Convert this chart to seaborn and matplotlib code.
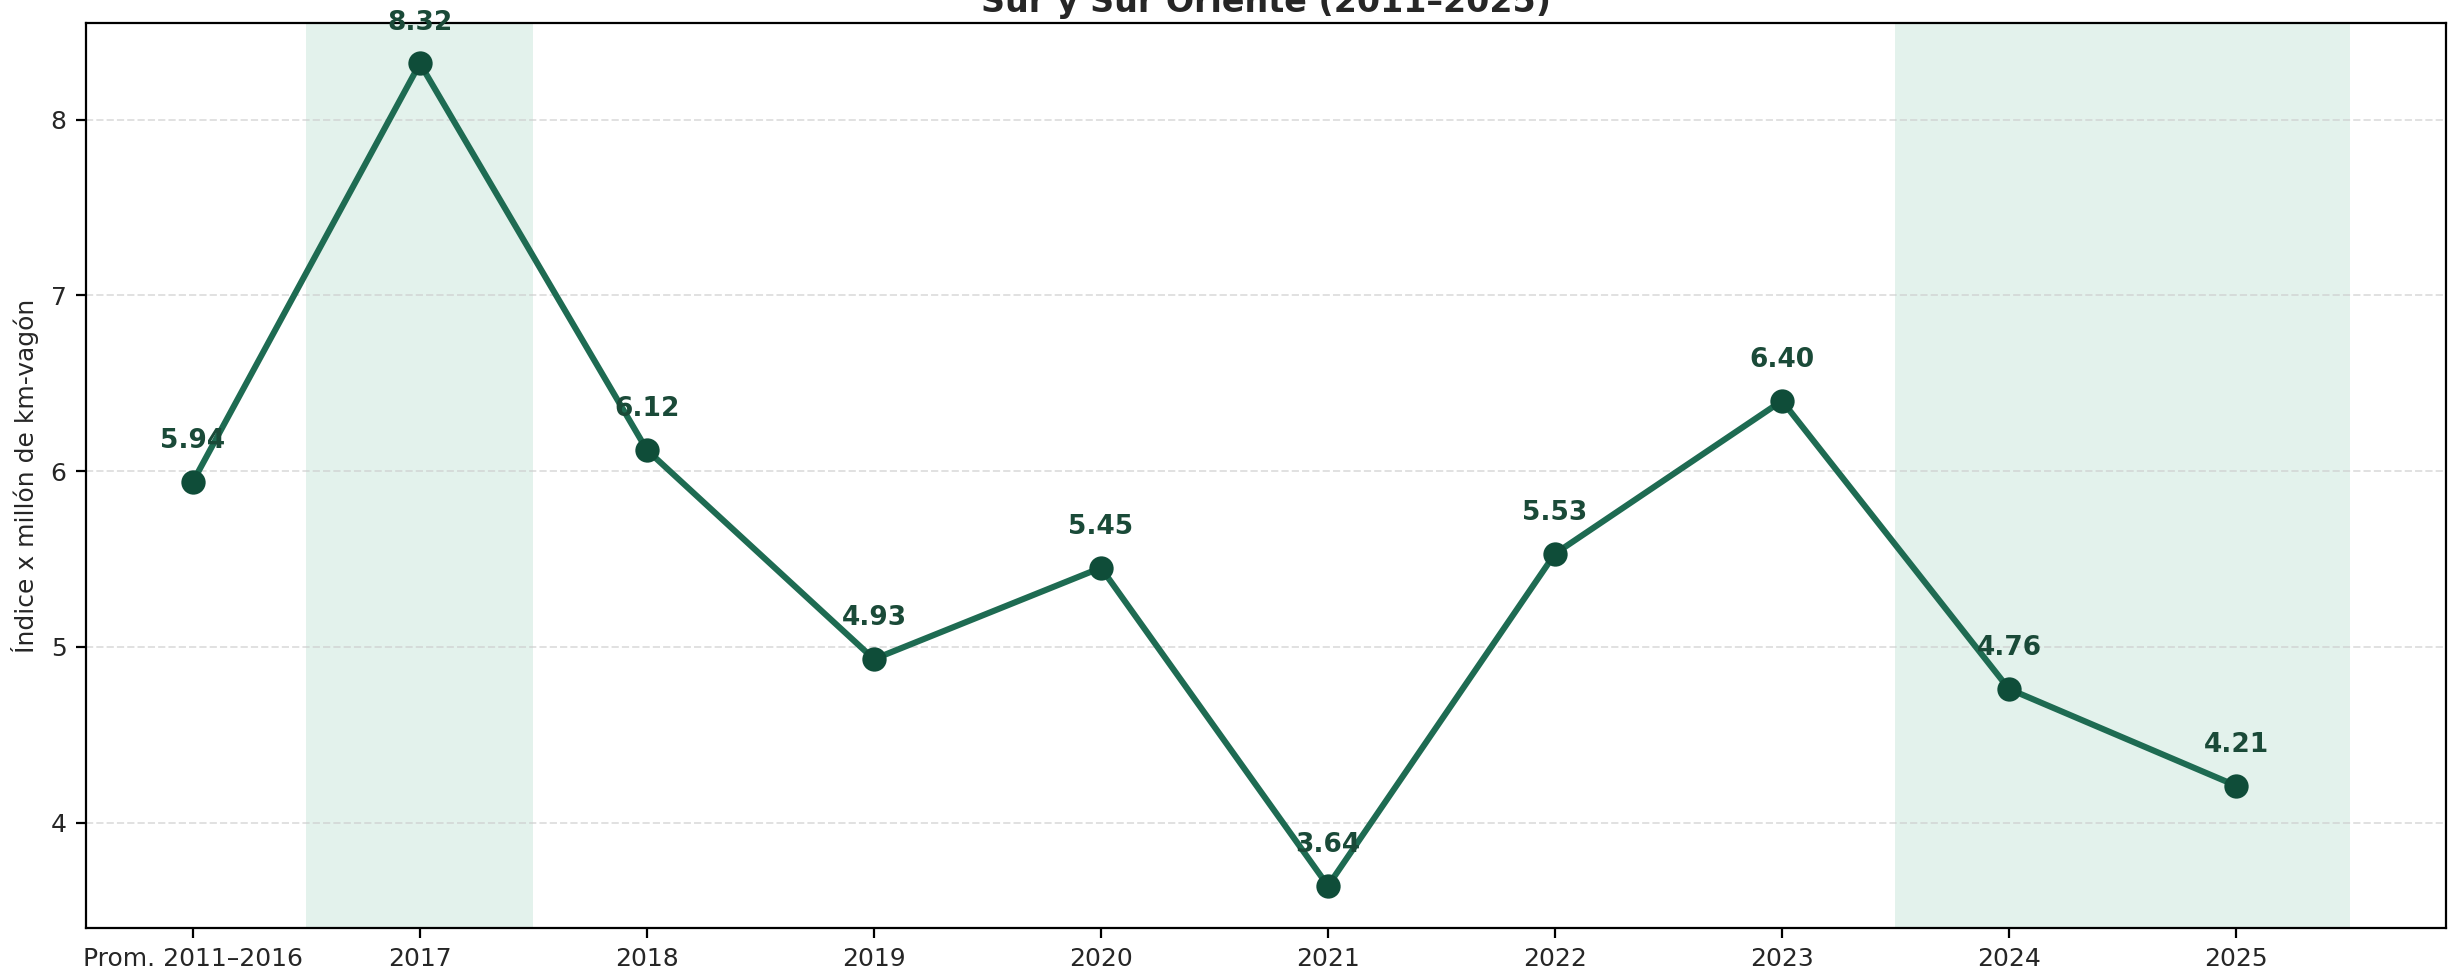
import matplotlib
matplotlib.use("Agg")
import matplotlib.pyplot as plt
import seaborn as sns
import pandas as pd

# Data
categories = ["Prom. 2011–2016", "2017", "2018", "2019", "2020",
              "2021", "2022", "2023", "2024", "2025"]
values = [5.94, 8.32, 6.12, 4.93, 5.45, 3.64, 5.53, 6.40, 4.76, 4.21]
highlight_spans = [(0.5, 1.5), (7.5, 9.5)]
title = "Sur y Sur Oriente (2011–2025)"
ylabel = "Índice x millón de km-vagón"
yticks = [4, 5, 6, 7, 8]

df = pd.DataFrame({"cat": categories, "val": values})

sns.set_style("white")
plt.rcParams["font.family"] = ["DejaVu Sans"]

fig = plt.figure(figsize=(12.25, 4.86), dpi=200)
ax = fig.add_axes([86 / 2450, 1 - 928 / 972, (2446 - 86) / 2450, (928 - 23) / 972])

line_color = "#1e6b52"
marker_color = "#0f4d39"
label_color = "#1a4a38"

for a, b in highlight_spans:
    ax.axvspan(a, b, color="#d4ebe3", alpha=0.65, lw=0, zorder=0)

sns.lineplot(data=df, x="cat", y="val", ax=ax, sort=False, color=line_color,
             lw=2.2, marker="o", markersize=8, markerfacecolor=marker_color,
             markeredgecolor=marker_color, zorder=3)

for i, v in enumerate(values):
    ax.annotate(f"{v:.2f}", (i, v), xytext=(0, 10), textcoords="offset points",
                ha="center", va="bottom", fontsize=9.5, fontweight="bold",
                color=label_color, zorder=4)

ax.set_xlim(-0.471, 9.925)
ax.set_ylim(3.40, 8.55)
ax.set_yticks(yticks)
ax.set_xticks(range(len(categories)))
ax.set_xticklabels(categories)
ax.tick_params(axis="both", labelsize=9, length=3.5, width=0.8, direction="out",
               bottom=True, left=True, color="black")
ax.set_xlabel("")
ax.set_ylabel(ylabel, fontsize=9)
ax.yaxis.grid(True, linestyle="--", color="#cccccc", alpha=0.6, lw=0.7)
ax.xaxis.grid(False)
ax.set_axisbelow(True)
for s in ax.spines.values():
    s.set_visible(True)
    s.set_color("black")
    s.set_linewidth(0.8)
ax.set_title(title, fontsize=12, fontweight="bold", pad=4)

fig.savefig("out.png", dpi=200)
